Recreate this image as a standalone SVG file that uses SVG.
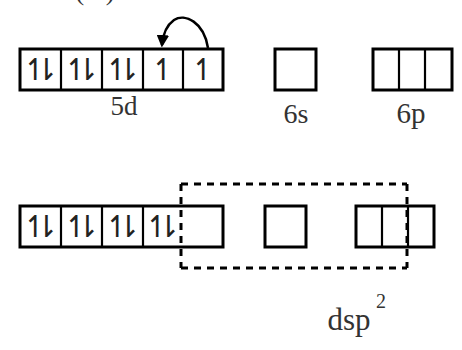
<svg xmlns="http://www.w3.org/2000/svg" width="462" height="350" viewBox="0 0 462 350">
<defs>
<style>
.box{fill:none;stroke:#000;stroke-width:3}
.div{stroke:#000;stroke-width:2.2}
.e{font-family:"DejaVu Sans",sans-serif;font-size:30px;fill:#222}
.p{letter-spacing:-14px}
.c{text-anchor:middle}
.lbl{font-family:"Liberation Serif","Times New Roman",serif;text-anchor:middle;fill:#333}
.dash{fill:none;stroke:#000;stroke-width:3;stroke-dasharray:7 6}
</style>
<marker id="ah" viewBox="0 0 10 10" refX="8" refY="5" markerWidth="5" markerHeight="5" orient="auto">
<path d="M0,0 L10,5 L0,10 z" fill="#000"/>
</marker>
</defs>
<rect width="462" height="350" fill="#fff"/>
<text class="lbl" x="95" y="0" font-size="26">(iii)</text>
<g id="d5">
<rect class="box" x="20" y="49" width="203" height="41"/>
<line class="div" x1="61" y1="49" x2="61" y2="90"/>
<line class="div" x1="102" y1="49" x2="102" y2="90"/>
<line class="div" x1="143" y1="49" x2="143" y2="90"/>
<line class="div" x1="183" y1="49" x2="183" y2="90"/>
<text class="e p" x="22.5" y="80">↿⇂</text>
<text class="e p" x="63.5" y="80">↿⇂</text>
<text class="e p" x="104.5" y="80">↿⇂</text>
<text class="e c" x="163" y="80">↿</text>
<text class="e c" x="203" y="80">↿</text>
<text class="lbl" x="124" y="115" font-size="27">5d</text>
</g>
<g id="s6">
<rect class="box" x="275" y="49" width="41" height="41"/>
<text class="lbl" x="296" y="123" font-size="28">6s</text>
</g>
<g id="p6">
<rect class="box" x="373" y="49" width="79" height="41"/>
<line class="div" x1="399" y1="49" x2="399" y2="90"/>
<line class="div" x1="425" y1="49" x2="425" y2="90"/>
<text class="lbl" x="411" y="123" font-size="29">6p</text>
</g>
<g id="hyb5d">
<rect class="box" x="20" y="206" width="203" height="41"/>
<line class="div" x1="61" y1="206" x2="61" y2="247"/>
<line class="div" x1="102" y1="206" x2="102" y2="247"/>
<line class="div" x1="143" y1="206" x2="143" y2="247"/>
<text class="e p" x="22.5" y="237">↿⇂</text>
<text class="e p" x="63.5" y="237">↿⇂</text>
<text class="e p" x="104.5" y="237">↿⇂</text>
<text class="e p" x="144.5" y="237">↿⇂</text>
</g>
<g id="hyb6s">
<rect class="box" x="265" y="206" width="41" height="41"/>
</g>
<g id="hyb6p">
<rect class="box" x="356" y="206" width="78" height="41"/>
<line class="div" x1="382" y1="206" x2="382" y2="247"/>
<line class="div" x1="408" y1="206" x2="408" y2="247"/>
</g>
<g id="dsp2">
<path class="dash" d="M181,184 H407 M407,184 V268 M181,184 V268 M181,268 H407"/>
<text class="lbl" x="349" y="330" font-size="31">dsp</text>
<text class="lbl" x="381" y="308" font-size="20">2</text>
</g>
<g id="connectors">
<path d="M208,48 C204,22 185,13 174,20 C167,25 163,33 162,45" fill="none" stroke="#000" stroke-width="2.5" marker-end="url(#ah)"/>
</g>
</svg>
